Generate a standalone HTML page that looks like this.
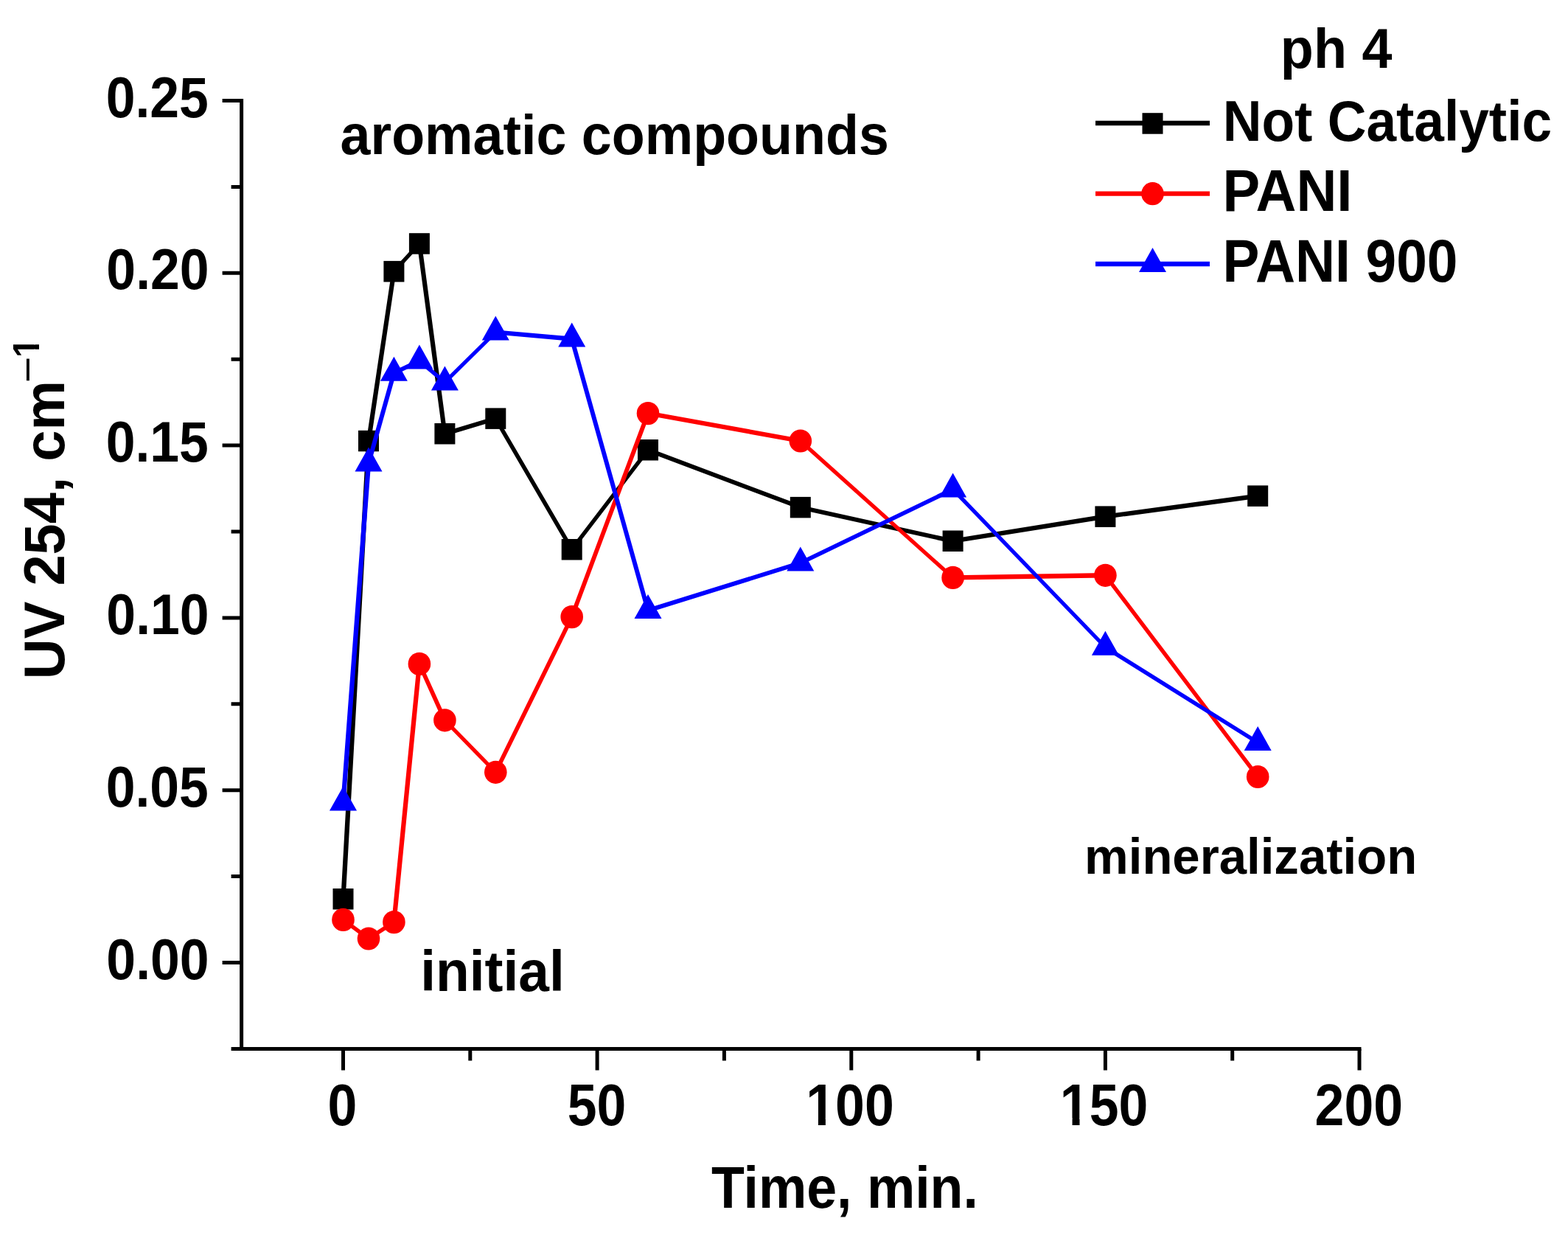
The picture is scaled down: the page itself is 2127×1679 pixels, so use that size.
<!DOCTYPE html>
<html><head><meta charset="utf-8"><title>UV 254 vs Time</title>
<style>
html,body{margin:0;padding:0;background:#fff;}
svg{display:block;}
text{font-family:"Liberation Sans",Arial,sans-serif;font-weight:bold;font-size:100px;fill:#000;}
</style></head><body>
<svg width="2127" height="1679" viewBox="0 0 2127 1679">
<rect width="2127" height="1679" fill="#fff"/>

<path d="M327.6 136.5 V1422.4 H1844.0" fill="none" stroke="#000" stroke-width="5.0" stroke-linecap="square"/>
<path d="M327.6 1305.5 H301.6 M327.6 1188.6 H313.6 M327.6 1071.7 H301.6 M327.6 954.8 H313.6 M327.6 837.9 H301.6 M327.6 721.0 H313.6 M327.6 604.1 H301.6 M327.6 487.2 H313.6 M327.6 370.3 H301.6 M327.6 253.4 H313.6 M327.6 136.5 H301.6 M327.6 1422.4 H313.6 M465.5 1422.4 V1451.4 M637.8 1422.4 V1438.4 M810.1 1422.4 V1451.4 M982.4 1422.4 V1438.4 M1154.8 1422.4 V1451.4 M1327.1 1422.4 V1438.4 M1499.4 1422.4 V1451.4 M1671.7 1422.4 V1438.4 M1844.0 1422.4 V1451.4" fill="none" stroke="#000" stroke-width="5.0"/>
<text transform="matrix(0.7154 0 0 0.7729 144.36 1327.50)">0.00</text>
<text transform="matrix(0.7154 0 0 0.7729 143.64 1093.70)">0.05</text>
<text transform="matrix(0.7154 0 0 0.7729 144.36 859.90)">0.10</text>
<text transform="matrix(0.7154 0 0 0.7729 143.64 626.10)">0.15</text>
<text transform="matrix(0.7154 0 0 0.7729 144.36 392.30)">0.20</text>
<text transform="matrix(0.7154 0 0 0.7729 143.64 158.50)">0.25</text>
<text transform="matrix(0.7160 0 0 0.7943 444.45 1526.40)">0</text>
<text transform="matrix(0.7160 0 0 0.7943 769.75 1526.40)">50</text>
<g transform="matrix(0.7160 0 0 0.7943 1093.25 1526.40)"><text>100</text><path d="M3 -12.5H23.3V2H3Z M37.2 -12.5H57V2H37.2Z" fill="#fff"/></g>
<g transform="matrix(0.7160 0 0 0.7943 1437.87 1526.40)"><text>150</text><path d="M3 -12.5H23.3V2H3Z M37.2 -12.5H57V2H37.2Z" fill="#fff"/></g>
<text transform="matrix(0.7160 0 0 0.7943 1783.57 1526.40)">200</text>
<text transform="matrix(0.7346 0 0 0.8029 964.97 1637.70)">Time, min.</text>
<text transform="matrix(0 -0.7592 0.7857 0 87.00 921.16)">UV 254, cm</text>
<g transform="matrix(0 -0.4800 0.5060 0 52.50 485.00)"><text>1</text><path d="M3 -12.5H23.3V2H3Z M37.2 -12.5H57V2H37.2Z" fill="#fff"/></g>
<text transform="matrix(0 -0.6125 0.55 0 56.20 519.40)" style="font-weight:normal">−</text>
<text transform="matrix(0.7360 0 0 0.7534 461.59 208.80)">aromatic compounds</text>
<text transform="matrix(0.7490 0 0 0.7767 570.16 1343.50)">initial</text>
<text transform="matrix(0.6710 0 0 0.6945 1471.10 1185.40)">mineralization</text>
<text transform="matrix(0.7374 0 0 0.7644 1736.84 91.50)">ph 4</text>
<text transform="matrix(0.7304 0 0 0.7771 1658.69 190.70)">Not Catalytic</text>
<text transform="matrix(0.7601 0 0 0.7943 1658.48 286.20)">PANI</text>
<text transform="matrix(0.7482 0 0 0.8071 1658.56 382.20)">PANI 900</text>
<path d="M1486.0 167 H1641.0" stroke="#000" stroke-width="6.3"/>
<rect x="1549.5" y="153.2" width="28.0" height="28.5" fill="#000"/>
<path d="M1486.0 262.7 H1641.0" stroke="#f00" stroke-width="6.3"/>
<ellipse cx="1563.5" cy="262.7" rx="15.3" ry="15.6" fill="#f00"/>
<path d="M1486.0 358 H1641.0" stroke="#00f" stroke-width="6.3"/>
<path d="M1563.5 336.0 L1582.0 369.0 L1545.0 369.0Z" fill="#00f"/>
<g stroke="#000" stroke-linecap="round"><line x1="465.5" y1="1219.3" x2="500.0" y2="598.0" stroke-width="6.32"/><line x1="500.0" y1="598.0" x2="534.4" y2="368.1" stroke-width="6.17"/><line x1="534.4" y1="368.1" x2="568.9" y2="330.5" stroke-width="5.27"/><line x1="568.9" y1="330.5" x2="603.4" y2="588.3" stroke-width="6.20"/><line x1="603.4" y1="588.3" x2="672.3" y2="567.6" stroke-width="5.95"/><line x1="672.3" y1="567.6" x2="775.7" y2="745.2" stroke-width="5.59"/><line x1="775.7" y1="745.2" x2="879.0" y2="610.2" stroke-width="5.40"/><line x1="879.0" y1="610.2" x2="1085.8" y2="688.1" stroke-width="5.85"/><line x1="1085.8" y1="688.1" x2="1292.6" y2="733.8" stroke-width="6.07"/><line x1="1292.6" y1="733.8" x2="1499.4" y2="700.6" stroke-width="6.16"/><line x1="1499.4" y1="700.6" x2="1706.2" y2="672.6" stroke-width="6.19"/></g>
<rect x="451.5" y="1205.0" width="28.0" height="28.5" fill="#000"/>
<rect x="486.0" y="583.8" width="28.0" height="28.5" fill="#000"/>
<rect x="520.4" y="353.9" width="28.0" height="28.5" fill="#000"/>
<rect x="554.9" y="316.2" width="28.0" height="28.5" fill="#000"/>
<rect x="589.4" y="574.0" width="28.0" height="28.5" fill="#000"/>
<rect x="658.3" y="553.4" width="28.0" height="28.5" fill="#000"/>
<rect x="761.7" y="731.0" width="28.0" height="28.5" fill="#000"/>
<rect x="865.0" y="596.0" width="28.0" height="28.5" fill="#000"/>
<rect x="1071.8" y="673.9" width="28.0" height="28.5" fill="#000"/>
<rect x="1278.6" y="719.5" width="28.0" height="28.5" fill="#000"/>
<rect x="1485.4" y="686.4" width="28.0" height="28.5" fill="#000"/>
<rect x="1692.2" y="658.4" width="28.0" height="28.5" fill="#000"/>
<g stroke="#f00" stroke-linecap="round"><line x1="465.5" y1="1247.4" x2="500.0" y2="1273.0" stroke-width="5.42"/><line x1="500.0" y1="1273.0" x2="534.4" y2="1250.6" stroke-width="5.52"/><line x1="534.4" y1="1250.6" x2="568.9" y2="900.4" stroke-width="6.25"/><line x1="568.9" y1="900.4" x2="603.4" y2="976.8" stroke-width="5.75"/><line x1="603.4" y1="976.8" x2="672.3" y2="1047.3" stroke-width="5.22"/><line x1="672.3" y1="1047.3" x2="775.7" y2="836.6" stroke-width="5.70"/><line x1="775.7" y1="836.6" x2="879.0" y2="560.6" stroke-width="5.85"/><line x1="879.0" y1="560.6" x2="1085.8" y2="598.0" stroke-width="6.13"/><line x1="1085.8" y1="598.0" x2="1292.6" y2="783.4" stroke-width="5.28"/><line x1="1292.6" y1="783.4" x2="1499.4" y2="780.3" stroke-width="6.38"/><line x1="1499.4" y1="780.3" x2="1706.2" y2="1053.5" stroke-width="5.41"/></g>
<ellipse cx="465.5" cy="1247.4" rx="15.3" ry="15.6" fill="#f00"/>
<ellipse cx="500.0" cy="1273.0" rx="15.3" ry="15.6" fill="#f00"/>
<ellipse cx="534.4" cy="1250.6" rx="15.3" ry="15.6" fill="#f00"/>
<ellipse cx="568.9" cy="900.4" rx="15.3" ry="15.6" fill="#f00"/>
<ellipse cx="603.4" cy="976.8" rx="15.3" ry="15.6" fill="#f00"/>
<ellipse cx="672.3" cy="1047.3" rx="15.3" ry="15.6" fill="#f00"/>
<ellipse cx="775.7" cy="836.6" rx="15.3" ry="15.6" fill="#f00"/>
<ellipse cx="879.0" cy="560.6" rx="15.3" ry="15.6" fill="#f00"/>
<ellipse cx="1085.8" cy="598.0" rx="15.3" ry="15.6" fill="#f00"/>
<ellipse cx="1292.6" cy="783.4" rx="15.3" ry="15.6" fill="#f00"/>
<ellipse cx="1499.4" cy="780.3" rx="15.3" ry="15.6" fill="#f00"/>
<ellipse cx="1706.2" cy="1053.5" rx="15.3" ry="15.6" fill="#f00"/>
<g stroke="#00f" stroke-linecap="round"><line x1="465.5" y1="1088.6" x2="500.0" y2="628.4" stroke-width="6.29"/><line x1="500.0" y1="628.4" x2="534.4" y2="505.8" stroke-width="5.98"/><line x1="534.4" y1="505.8" x2="568.9" y2="489.4" stroke-width="5.72"/><line x1="568.9" y1="489.4" x2="603.4" y2="518.4" stroke-width="5.33"/><line x1="603.4" y1="518.4" x2="672.3" y2="450.5" stroke-width="5.21"/><line x1="672.3" y1="450.5" x2="775.7" y2="459.6" stroke-width="6.27"/><line x1="775.7" y1="459.6" x2="879.0" y2="827.9" stroke-width="5.98"/><line x1="879.0" y1="827.9" x2="1085.8" y2="763.5" stroke-width="5.94"/><line x1="1085.8" y1="763.5" x2="1292.6" y2="663.6" stroke-width="5.71"/><line x1="1292.6" y1="663.6" x2="1499.4" y2="877.8" stroke-width="5.23"/><line x1="1499.4" y1="877.8" x2="1706.2" y2="1007.0" stroke-width="5.55"/></g>
<path d="M465.5 1066.6 L484.0 1099.6 L447.0 1099.6Z" fill="#00f"/>
<path d="M500.0 606.4 L518.5 639.4 L481.5 639.4Z" fill="#00f"/>
<path d="M534.4 483.8 L552.9 516.8 L515.9 516.8Z" fill="#00f"/>
<path d="M568.9 467.4 L587.4 500.4 L550.4 500.4Z" fill="#00f"/>
<path d="M603.4 496.4 L621.9 529.4 L584.9 529.4Z" fill="#00f"/>
<path d="M672.3 428.5 L690.8 461.5 L653.8 461.5Z" fill="#00f"/>
<path d="M775.7 437.6 L794.2 470.6 L757.2 470.6Z" fill="#00f"/>
<path d="M879.0 805.9 L897.5 838.9 L860.5 838.9Z" fill="#00f"/>
<path d="M1085.8 741.5 L1104.3 774.5 L1067.3 774.5Z" fill="#00f"/>
<path d="M1292.6 641.6 L1311.1 674.6 L1274.1 674.6Z" fill="#00f"/>
<path d="M1499.4 855.8 L1517.9 888.8 L1480.9 888.8Z" fill="#00f"/>
<path d="M1706.2 985.0 L1724.7 1018.0 L1687.7 1018.0Z" fill="#00f"/>
</svg>
</body></html>
